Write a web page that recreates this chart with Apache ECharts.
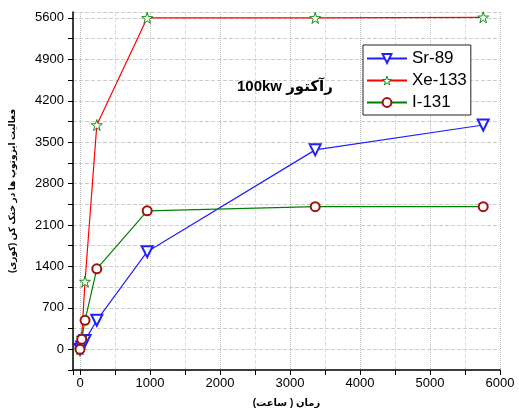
<!DOCTYPE html>
<html><head><meta charset="utf-8">
<script src="https://cdn.jsdelivr.net/npm/echarts@6/dist/echarts.min.js"></script>
<style>html,body{margin:0;padding:0;background:#fff}#c{width:519px;height:408px}</style>
</head><body><div id="c"></div>
<script>
var times = [0, 24, 72, 240, 960, 3360, 5760];
var sr89 = [0, 40, 150, 490, 1650, 3370, 3790];
var xe133 = [0, 200, 1145, 3790, 5600, 5600, 5610];
var i131 = [0, 170, 490, 1360, 2340, 2410, 2410];
var seriesNames = ['Sr-89', 'Xe-133', 'I-131'];
var titleText = '100kw رآکتور';
var xName = 'زمان ( ساعت)';
var yName = 'فعالیت ایزوتوپ ها در خنک کن (کوری)';

function pts(vals){ return times.map(function(t,i){ return [t, vals[i]]; }); }
var star = 'path://M50,0 L61,35 L98,35 L68,57 L79,91 L50,70 L21,91 L32,57 L2,35 L39,35 Z';
var font = "'Liberation Sans', Arial, 'DejaVu Sans', sans-serif";

var chart = echarts.init(document.getElementById('c'));
chart.setOption({
  animation: false,
  backgroundColor: '#fff',
  title: { text: titleText, left: 237, top: 79, padding: 0, textStyle: { fontFamily: font, fontSize: 15, fontWeight: 'bold', color: '#000' } },
  legend: {
    orient: 'vertical', left: 363, top: 45,
    itemWidth: 40, itemHeight: 11, itemGap: 5,
    padding: [5, 4, 4, 3],
    borderColor: '#222', borderWidth: 1, backgroundColor: '#fff',
    textStyle: { fontFamily: font, fontSize: 17, color: '#000', padding: [0, 0, 0, 0] },
    data: [
      { name: seriesNames[0] },
      { name: seriesNames[1], itemStyle: { color: '#ffffff', borderColor: '#008000', borderWidth: 0.9 } },
      { name: seriesNames[2] }
    ]
  },
  grid: { left: 73, right: 19, top: 12, bottom: 38, outerBoundsMode: 'none', containLabel: false },
  xAxis: {
    type: 'value', min: -100, max: 6000,
    splitNumber: 6,
    name: xName, nameLocation: 'middle', nameGap: 28,
    nameTextStyle: { fontFamily: font, fontSize: 10, fontWeight: 'bold', color: '#000' },
    axisLine: { onZero: false, lineStyle: { color: '#000', width: 1.5 } },
    axisTick: { lineStyle: { color: '#000' }, length: 5 },
    minorTick: { show: true, splitNumber: 2, length: 5, lineStyle: { color: '#000' } },
    axisLabel: { showMinLabel: false, fontFamily: font, fontSize: 13, color: '#000', margin: 7,
      formatter: function(v){ return String(v); } },
    splitLine: { lineStyle: { color: '#bbb', type: 'dotted' } },
    minorSplitLine: { show: true, lineStyle: { color: '#ddd', type: 'dashed' } }
  },
  yAxis: {
    type: 'value', min: -350, max: 5700, interval: 350,
    name: yName, nameLocation: 'middle', nameGap: 56,
    nameTextStyle: { fontFamily: font, fontSize: 9, fontWeight: 'bold', color: '#000' },
    axisLine: { onZero: false, lineStyle: { color: '#000', width: 1.5 } },
    axisTick: { lineStyle: { color: '#000' }, length: 5 },
    axisLabel: { fontFamily: font, fontSize: 13, color: '#000', margin: 9,
      showMaxLabel: false,
      formatter: function(v){ return (v >= 0 && v % 700 === 0) ? String(v) : ''; } },
    splitLine: { lineStyle: { color: '#ccc', type: 'dashed' } }
  },
  series: [
    { name: seriesNames[0], type: 'line', data: pts(sr89), symbol: 'emptyTriangle', symbolRotate: 180, symbolSize: 11,
      lineStyle: { color: '#1f1fff', width: 1.2 }, itemStyle: { color: '#1f1fff', borderWidth: 1.2 }, z: 3 },
    { name: seriesNames[1], type: 'line', data: pts(xe133), symbol: star, symbolSize: 11,
      lineStyle: { color: '#ff0000', width: 1.2 }, itemStyle: { color: '#ffffff', borderColor: '#008000', borderWidth: 0.9 }, z: 4 },
    { name: seriesNames[2], type: 'line', data: pts(i131), symbol: 'emptyCircle', symbolSize: 9,
      lineStyle: { color: '#008000', width: 1.2 }, itemStyle: { color: '#a01010', borderWidth: 1.2 }, z: 5 }
  ]
});
</script></body></html>
